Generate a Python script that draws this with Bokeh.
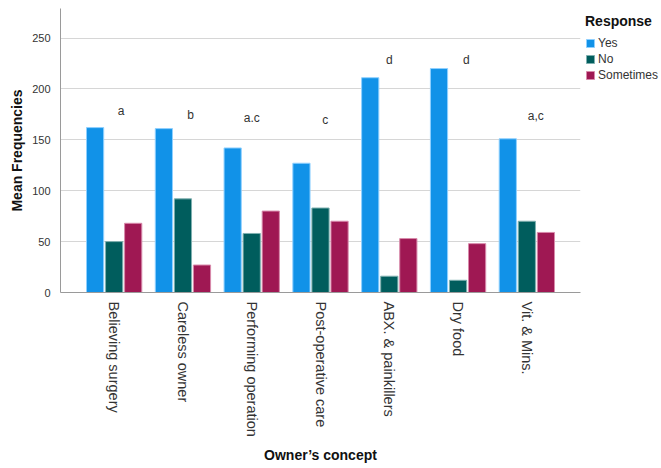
import math
from bokeh.plotting import figure
from bokeh.models import ColumnDataSource, FactorRange, Range1d, Legend, LegendItem, FixedTicker
from bokeh.transform import dodge
from bokeh.core.properties import value
from bokeh.embed import file_html
from bokeh.resources import INLINE

categories = ["Believing surgery", "Careless owner", "Performing operation",
              "Post-operative care", "ABX. & painkillers", "Dry food", "Vit. & Mins."]
yes = [162, 161, 142, 127, 211, 220, 151]
no = [50, 92, 58, 83, 16, 12, 70]
sometimes = [68, 27, 80, 70, 53, 48, 59]
letters = ["a", "b", "a.c", "c", "d", "d", "a,c"]
letter_level = [178, 174, 171, 169, 228, 228, 173]
y_ticks = [0, 50, 100, 150, 200, 250]

# layout-only offsets for the significance letters (category units)
letter_dx = [0.10, 0.11, 0.0, 0.07, 0.0, 0.12, 0.13]

FONT = "Liberation Sans"
C_YES, C_NO, C_SOM = "#1192E8", "#005D5D", "#9F1853"

src = ColumnDataSource(dict(cat=categories, yes=yes, no=no, sometimes=sometimes))

p = figure(x_range=FactorRange(factors=categories, range_padding=0.08),
           y_range=Range1d(0, 279), frame_width=520, frame_height=284,
           output_backend="svg", toolbar_location=None,
           min_border_left=60, min_border_right=81, min_border_top=8,
           min_border_bottom=176)

w = 0.25
r1 = p.vbar(x=dodge("cat", -0.277, range=p.x_range), top="yes", width=w, source=src,
            fill_color=C_YES, line_color="#8fd0ff", line_width=1)
r2 = p.vbar(x=dodge("cat", 0.0, range=p.x_range), top="no", width=w, source=src,
            fill_color=C_NO, line_color="#7fb0b0", line_width=1)
r3 = p.vbar(x=dodge("cat", 0.277, range=p.x_range), top="sometimes", width=w, source=src,
            fill_color=C_SOM, line_color="#d88aab", line_width=1)

for c, dx, yv, t in zip(categories, letter_dx, letter_level, letters):
    s = ColumnDataSource(dict(x=[c], y=[yv], t=[t]))
    p.text(x=dodge("x", dx, range=p.x_range), y="y", text="t", source=s,
           text_font=value(FONT), text_font_size="12px", text_color="#333333",
           text_align="center", text_baseline="middle")

p.outline_line_color = None
p.background_fill_color = "white"
p.xgrid.grid_line_color = None
p.ygrid.grid_line_color = "#d6d6d6"
p.ygrid.ticker = FixedTicker(ticks=y_ticks)

p.yaxis.ticker = FixedTicker(ticks=y_ticks)
for ax in (p.xaxis[0], p.yaxis[0]):
    ax.axis_line_color = "#9a9a9a"
    ax.major_tick_line_color = None
    ax.minor_tick_line_color = None
    ax.major_label_text_font = FONT
    ax.major_label_text_color = "#333333"
    ax.axis_label_text_font = FONT
    ax.axis_label_text_font_style = "bold"
    ax.axis_label_text_color = "#111111"
    ax.axis_label_text_font_size = "14px"

p.yaxis.major_label_text_font_size = "11px"
p.yaxis.major_label_standoff = 4
p.yaxis.axis_label = "Mean Frequencies"
p.yaxis.axis_label_standoff = 4

p.xaxis.major_label_text_font_size = "14.5px"
p.xaxis.major_label_orientation = -math.pi / 2
p.xaxis.major_label_standoff = 3
p.xaxis.axis_label = "Owner\u2019s concept"
p.xaxis.axis_label_standoff = 7

legend = Legend(items=[LegendItem(label="Yes", renderers=[r1]),
                       LegendItem(label="No", renderers=[r2]),
                       LegendItem(label="Sometimes", renderers=[r3])],
                location="top_left", title="Response")
legend.title_text_font = FONT
legend.title_text_font_style = "bold"
legend.title_text_font_size = "14px"
legend.title_text_color = "#111111"
legend.title_standoff = 7
legend.label_text_font = FONT
legend.label_text_font_size = "12px"
legend.label_text_color = "#333333"
legend.glyph_width = 10
legend.glyph_height = 10
legend.label_height = 12
legend.label_standoff = 3
legend.spacing = 2
legend.padding = 0
legend.margin = 5
legend.border_line_color = None
legend.background_fill_alpha = 0
p.add_layout(legend, "right")

open("out.html", "w").write(file_html(p, INLINE))
